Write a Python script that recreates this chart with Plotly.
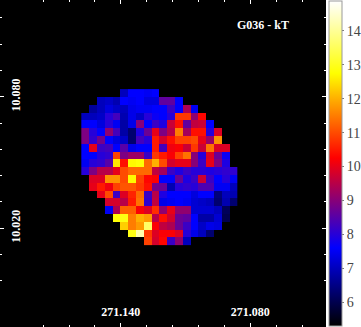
import plotly.graph_objects as go

# temperature map, rows top to bottom, cols left to right (None = no data)
N = None
row00 = [N, N, N, N, N, 7.0, 7.6, 7.6, 7.5, 7.6, N, N, N, N, N, N, N, N, N, N]
row01 = [N, N, 7.0, 7.1, 6.9, 7.6, 7.5, 7.6, 7.3, 7.3, 8.6, 8.6, 7.6, N, N, N, N, N, N, N]
row02 = [N, 6.7, 7.0, 7.3, 7.1, 7.0, 7.4, 7.5, 7.5, 7.6, 7.6, 8.2, 7.6, 9.4, 7.5, N, N, N, N, N]
row03 = [7.0, 7.0, 7.1, 8.0, 8.3, 6.9, 7.4, 7.1, 8.0, 7.7, 7.6, 8.0, 10.8, 10.8, 9.1, 10.3, N, N, N, N]
row04 = [7.6, 7.6, 7.3, 8.0, 7.5, 6.8, 7.4, 9.0, 7.6, 8.2, 7.9, 9.7, 10.4, 8.6, 9.6, 9.7, 7.6, N, N, N]
row05 = [8.9, 8.0, 7.6, 9.1, 8.3, 6.8, 6.3, 7.9, 8.7, 10.0, 8.9, 9.5, 11.5, 9.3, 10.4, 10.4, 8.0, 9.9, N, N]
row06 = [8.9, 8.1, 8.8, 7.6, 7.3, 7.1, 6.3, 8.3, 8.0, 10.5, 9.8, 10.4, 10.9, 10.9, 11.0, 10.0, 9.2, 11.7, N, N]
row07 = [7.6, 10.0, 8.2, 8.3, 7.6, 8.5, 7.4, 7.6, 7.6, 10.5, 8.3, 10.1, 10.2, 9.7, 10.8, 9.7, 11.4, 9.9, 9.9, N]
row08 = [7.6, 7.6, 8.0, 8.1, 10.9, 8.9, 9.2, 9.2, 8.2, 10.8, 10.5, 10.2, 10.9, 11.4, 9.0, 8.0, 9.9, 8.7, 7.7, N]
row09 = [7.5, 8.0, 8.1, 8.5, 12.5, 10.4, 12.7, 12.8, 11.3, 12.0, 11.0, 9.8, 10.0, 10.0, 9.0, 8.2, 10.0, 8.9, 7.9, N]
row10 = [8.0, 8.9, 9.5, 9.5, 10.0, 11.0, 11.3, 11.3, 11.3, 9.6, 9.3, 8.2, 7.9, 8.2, 8.0, 8.0, 7.9, 8.0, 8.1, 8.1]
row11 = [N, 9.9, 9.9, 11.7, 11.7, 11.0, 12.7, 10.9, 10.3, 10.2, 7.6, 7.6, 8.7, 7.9, 8.2, 9.7, 8.2, 7.6, 8.0, 7.5]
row12 = [N, 10.0, 10.5, 10.1, 10.9, 11.1, 11.1, 10.8, 10.4, 8.8, 8.7, 6.9, 8.0, 8.1, 8.0, 8.4, 8.4, 7.5, 7.5, 7.0]
row13 = [N, N, 10.0, 11.0, 8.2, 9.9, 10.6, 11.3, 8.2, 9.5, 7.9, 7.6, 7.6, 7.6, 7.3, 7.6, 7.6, 6.4, 7.0, 6.9]
row14 = [N, N, N, 9.8, 9.8, 9.5, 10.5, 11.4, 8.1, 9.6, 7.4, 7.5, 7.6, 7.5, 7.2, 7.1, 7.0, 6.3, 6.9, 6.3]
row15 = [N, N, N, 7.5, 9.4, 11.2, 11.2, 10.2, 9.9, 10.7, 9.1, 10.0, 9.1, 9.1, 7.2, 7.2, 7.2, 7.0, 6.1, N]
row16 = [N, N, N, N, 12.8, 12.9, 11.5, 12.0, 11.8, 9.5, 10.4, 9.8, 8.7, 8.6, 7.6, 6.8, 6.8, 7.2, 6.0, N]
row17 = [N, N, N, N, N, 12.3, 11.5, 11.8, 13.6, 10.2, 9.6, 9.4, 8.7, 8.2, 7.6, 7.1, 7.4, 7.3, N, N]
row18 = [N, N, N, N, N, N, 12.9, 14.2, 10.8, 9.9, 10.2, 10.2, 9.9, 8.0, 7.4, 7.0, 6.3, N, N, N]
row19 = [N, N, N, N, N, N, N, N, 10.9, 9.8, 10.3, 8.2, 9.1, 7.0, N, N, N, N, N, N]
kT = [row00, row01, row02, row03, row04, row05, row06, row07, row08, row09,
      row10, row11, row12, row13, row14, row15, row16, row17, row18, row19]

ra_ticks = [271.140, 271.080]
ra_labels = ["271.140", "271.080"]
dec_ticks = [10.080, 10.020]
dec_labels = ["10.080", "10.020"]
cbar_ticks = [6, 7, 8, 9, 10, 11, 12, 13, 14]

kt_min, kt_max = 5.3, 14.88
# black - blue - red - orange - yellow - white, stops given in keV
stops = [(5.3, "#000000"), (7.6, "#0000ff"), (10.25, "#ff0000"),
         (11.9, "#ffa500"), (12.75, "#ffff00"), (14.88, "#ffffff")]
colorscale = [[(v - kt_min) / (kt_max - kt_min), c] for v, c in stops]

serif = "Liberation Serif"

fig = go.Figure(go.Heatmap(
    z=kT,
    x0=271.1565, dx=-0.003614,
    y0=10.0817, dy=-0.003564,
    zmin=kt_min, zmax=kt_max,
    colorscale=colorscale,
    hoverongaps=False,
    colorbar=dict(
        thickness=13, len=1.0, lenmode="fraction",
        x=328.5 / 361, xref="container", xanchor="left",
        y=0.5, yanchor="middle",
        outlinecolor="#999999", outlinewidth=1,
        ticks="outside", ticklen=2, tickcolor="#777777",
        tickvals=cbar_ticks,
        tickfont=dict(family=serif, size=14, color="#444444"),
        xpad=0, ypad=1,
    ),
))

fig.add_annotation(text="<b>G036 - kT</b>", xref="paper", yref="paper",
                   x=263 / 326.5, y=1 - 25 / 327, xanchor="center", yanchor="middle",
                   showarrow=False, font=dict(family=serif, size=12, color="white"))

fig.update_xaxes(
    range=[271.196, 271.0449], showgrid=False, zeroline=False, showline=False,
    tickvals=ra_ticks, ticktext=ra_labels, ticks="inside", ticklen=4, tickcolor="white",
    tickwidth=1, mirror="ticks", ticklabelposition="inside", ticklabelstandoff=4,
    tickfont=dict(family=serif, size=12, color="white", weight="bold"),
    minor=dict(dtick=0.012, tick0=271.14, ticks="inside", ticklen=2, tickcolor="white",
               showgrid=False),
)
fig.update_yaxes(
    range=[9.9748, 10.1242], showgrid=False, zeroline=False, showline=False,
    tickvals=dec_ticks, ticktext=dec_labels, ticks="inside", ticklen=4, tickcolor="white",
    tickwidth=1, mirror="ticks", ticklabelposition="inside", ticklabelstandoff=1,
    tickangle=-90,
    tickfont=dict(family=serif, size=12, color="white", weight="bold"),
    minor=dict(dtick=0.012, tick0=10.08, ticks="inside", ticklen=2, tickcolor="white",
               showgrid=False),
)

fig.update_layout(
    width=361, height=327,
    margin=dict(l=0, r=34.5, t=0, b=0),
    paper_bgcolor="white", plot_bgcolor="black",
)

# page default margin would push the figure 8px down and right
fig.write_html("out.html", config={"displayModeBar": False},
               post_script="document.body.style.margin='0';")
